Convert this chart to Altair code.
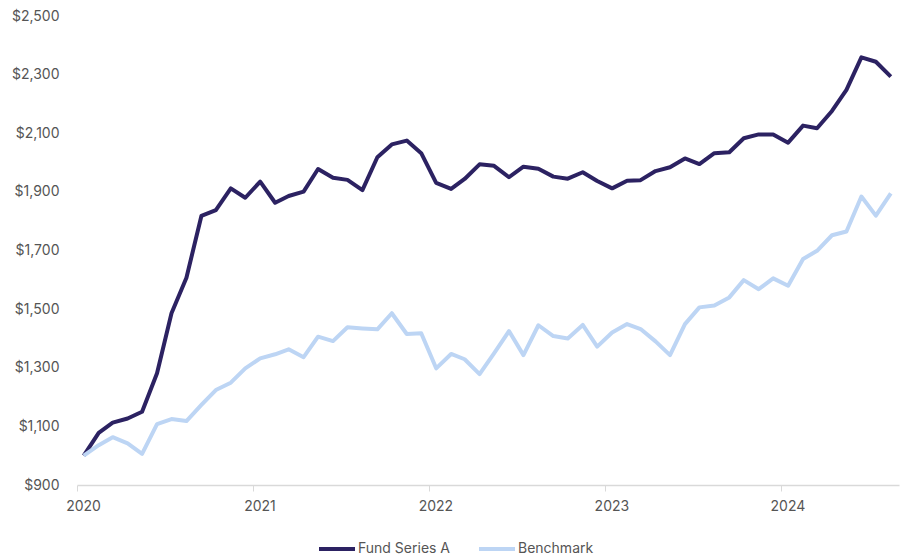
import altair as alt
import pandas as pd

# Monthly observations, plotted at mid-month (Jan 2020 - Aug 2024)
months = pd.date_range("2020-01-01", periods=56, freq="MS") + pd.Timedelta(days=14)

fund_series_a = [
    1000, 1078, 1113, 1127, 1150, 1281, 1486, 1607, 1818, 1838, 1912, 1880,
    1935, 1863, 1886, 1901, 1978, 1948, 1941, 1906, 2018, 2062, 2075, 2032,
    1931, 1910, 1944, 1994, 1989, 1950, 1986, 1979, 1952, 1945, 1967, 1937,
    1912, 1938, 1940, 1971, 1984, 2014, 1995, 2032, 2035, 2083, 2096, 2096,
    2068, 2126, 2117, 2176, 2248, 2359, 2344, 2293,
]
benchmark = [
    1000, 1036, 1063, 1042, 1006, 1108, 1125, 1118, 1173, 1224, 1249, 1298,
    1332, 1346, 1363, 1336, 1406, 1391, 1438, 1434, 1431, 1486, 1415, 1418,
    1298, 1347, 1329, 1278, 1349, 1425, 1343, 1445, 1408, 1400, 1446, 1372,
    1420, 1449, 1432, 1390, 1343, 1449, 1506, 1512, 1540, 1599, 1568, 1605,
    1580, 1671, 1699, 1752, 1765, 1884, 1819, 1895,
]

series_names = ["Fund Series A", "Benchmark"]
series_colors = ["#2c2262", "#bdd5f4"]
y_ticks = [900, 1100, 1300, 1500, 1700, 1900, 2100, 2300, 2500]
year_ticks = [2020, 2021, 2022, 2023, 2024]

df = pd.concat(
    [
        pd.DataFrame({"date": months, "value": fund_series_a, "series": series_names[0], "k": 0}),
        pd.DataFrame({"date": months, "value": benchmark, "series": series_names[1], "k": 1}),
    ],
    ignore_index=True,
)

FONT = "Inter"

chart = (
    alt.Chart(df)
    .mark_line(strokeWidth=4, strokeJoin="round")
    .encode(
        x=alt.X(
            "date:T",
            scale=alt.Scale(
                domain=[
                    alt.DateTime(year=2020, month=1, date=1),
                    alt.DateTime(year=2024, month=9, date=1),
                ]
            ),
            axis=alt.Axis(
                values=[alt.DateTime(year=y, month=1, date=1) for y in year_ticks],
                format="%Y",
                title=None,
                grid=False,
                domainColor="#d9d9d9",
                domainWidth=1.5,
                tickColor="#d9d9d9",
                tickSize=6,
                labelColor="#555555",
                labelFontSize=14,
                labelFont=FONT,
                labelPadding=8,
                labelOffset=6,
                labelFlush=False,
            ),
        ),
        y=alt.Y(
            "value:Q",
            scale=alt.Scale(domain=[900, 2500], nice=False, zero=False),
            axis=alt.Axis(
                values=y_ticks,
                format="$,.0f",
                title=None,
                grid=False,
                domain=False,
                ticks=False,
                labelColor="#555555",
                labelFontSize=14,
                labelFont=FONT,
                labelPadding=18,
            ),
        ),
        color=alt.Color(
            "series:N",
            scale=alt.Scale(domain=series_names, range=series_colors),
            legend=alt.Legend(
                title=None,
                orient="none",
                direction="horizontal",
                legendX=240,
                legendY=513,
                symbolType="stroke",
                symbolSize=1296,
                symbolStrokeWidth=4,
                labelFont=FONT,
                labelFontSize=14,
                labelColor="#555555",
                labelOffset=1,
                columnPadding=20,
                padding=0,
            ),
        ),
        order=alt.Order("k:Q"),
    )
    .properties(
        width=822,
        height=469,
        autosize=alt.AutoSizeParams(type="none"),
        padding={"left": 77, "top": 16, "right": 6, "bottom": 72},
    )
    .configure_view(stroke=None)
)

chart.save("out.html", embed_options={"renderer": "svg", "actions": False})
